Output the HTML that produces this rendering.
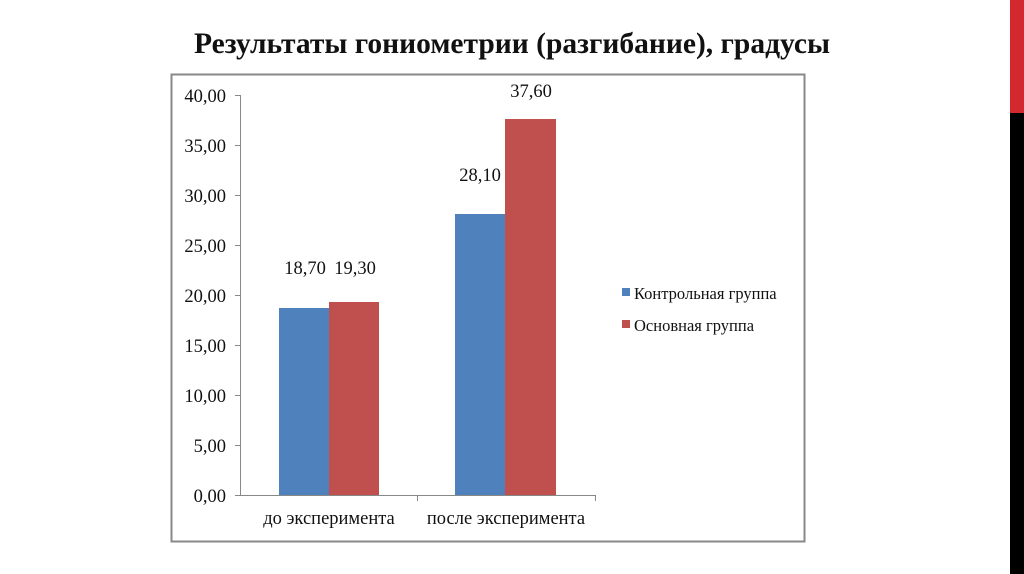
<!DOCTYPE html>
<html><head><meta charset="utf-8"><style>
body{margin:0;width:1024px;height:574px;background:#fff;overflow:hidden;position:relative;font-family:"Liberation Serif",serif}
</style></head><body>
<div style="position:absolute;left:1010px;top:0;width:14px;height:113px;background:#d2282e"></div>
<div style="position:absolute;left:1010px;top:113px;width:14px;height:461px;background:#000"></div>
<svg width="1024" height="574" style="position:absolute;left:0;top:0" font-family="Liberation Serif, serif">
<text x="512" y="53" text-anchor="middle" font-size="29.5" font-weight="bold" fill="#111">Результаты гониометрии (разгибание), градусы</text>
<rect x="171.5" y="74.5" width="633" height="467" fill="#fff" stroke="#888" stroke-width="2"/>
<g stroke="#888" stroke-width="1">
<line x1="240.5" y1="95" x2="240.5" y2="495"/>
<line x1="240" y1="495.5" x2="595" y2="495.5"/>
<line x1="235" y1="95.5" x2="240" y2="95.5"/><line x1="235" y1="145.5" x2="240" y2="145.5"/>
<line x1="235" y1="195.5" x2="240" y2="195.5"/><line x1="235" y1="245.5" x2="240" y2="245.5"/>
<line x1="235" y1="295.5" x2="240" y2="295.5"/><line x1="235" y1="345.5" x2="240" y2="345.5"/>
<line x1="235" y1="395.5" x2="240" y2="395.5"/><line x1="235" y1="445.5" x2="240" y2="445.5"/>
<line x1="235" y1="495.5" x2="240" y2="495.5"/>
<line x1="417.5" y1="495" x2="417.5" y2="501"/><line x1="595.5" y1="495" x2="595.5" y2="501"/>
</g>
<g font-size="18.5" fill="#111" text-anchor="end">
<text x="226" y="102">40,00</text><text x="226" y="152">35,00</text><text x="226" y="202">30,00</text>
<text x="226" y="252">25,00</text><text x="226" y="302">20,00</text><text x="226" y="352">15,00</text>
<text x="226" y="402">10,00</text><text x="226" y="452">5,00</text><text x="226" y="502">0,00</text>
</g>
<rect x="279" y="308" width="50" height="187" fill="#4f81bd"/>
<rect x="329" y="302" width="50" height="193" fill="#c0504d"/>
<rect x="455" y="214" width="50" height="281" fill="#4f81bd"/>
<rect x="505" y="119" width="51" height="376" fill="#c0504d"/>
<g font-size="18.5" fill="#111" text-anchor="middle">
<text x="305" y="274">18,70</text><text x="355" y="274">19,30</text>
<text x="480" y="181">28,10</text><text x="531" y="97">37,60</text>
<text x="329" y="524">до эксперимента</text><text x="506" y="524">после эксперимента</text>
</g>
<rect x="622" y="288" width="8" height="8" fill="#4f81bd"/>
<rect x="622" y="320" width="8" height="8" fill="#c0504d"/>
<g font-size="16.5" fill="#111"><text x="634" y="299">Контрольная группа</text><text x="634" y="331">Основная группа</text></g>
</svg>
</body></html>
